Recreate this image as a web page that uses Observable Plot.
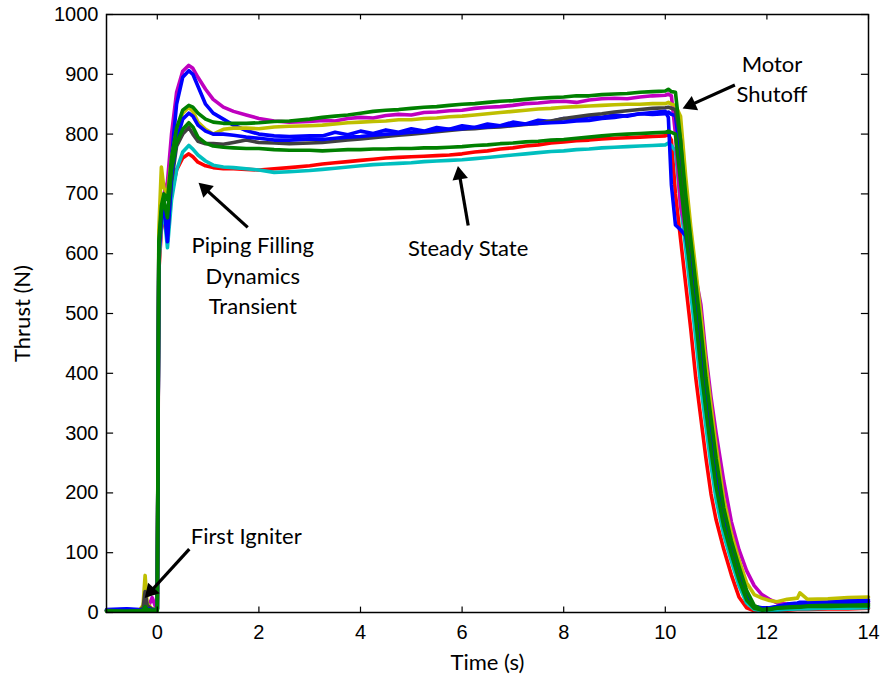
<!DOCTYPE html>
<html><head><meta charset="utf-8">
<script src="https://cdn.jsdelivr.net/npm/d3@7"></script>
<script src="https://cdn.jsdelivr.net/npm/@observablehq/plot@0.6"></script>
<style>body{margin:0;background:#fff}</style>
</head><body><div id="chart"></div>
<script>
// time axis (s)
const time = [
  -1, -0.6, -0.35, -0.28, -0.24, -0.2, -0.1, -0.02, 0.0,
  0.03, 0.08, 0.13, 0.2, 0.28, 0.38, 0.5, 0.62, 0.7, 0.8, 0.95, 1.1, 1.3, 1.5, 1.75, 2.0, 2.3, 2.6, 3.0,
  3.25, 3.5, 3.75, 4, 4.25, 4.5, 4.75, 5, 5.25, 5.5, 5.75, 6, 6.25, 6.5, 6.75, 7, 7.25, 7.5, 7.75, 8, 8.25, 8.5, 8.75, 9, 9.25, 9.5, 9.75,
  10.0, 10.06, 10.12, 10.2, 10.3, 10.4, 10.5, 10.6, 10.7, 10.8, 10.9, 11.0, 11.15, 11.3, 11.45, 11.6, 11.75, 11.9, 12.05, 12.2,
  12.4, 12.6, 12.65, 12.8, 13.2, 13.6, 14.0
];
// thrust (N) per test
const red = [
  3, 2, 3, 4, 8, 5, 4, 5, 5,
  570, 640, 660, 650, 700, 740, 760, 767, 762, 753, 747, 744, 742, 742, 741, 740, 742, 744, 747,
  750, 752, 754, 756, 758, 760, 761, 762, 763, 764, 765, 767, 770, 772, 775, 777, 780, 782, 785, 787, 789, 790, 792, 793, 794, 795, 796,
  797, 799, 790, 700, 625, 550, 475, 392, 325, 258, 198, 155, 106, 63, 26, 8, 3, 2, 2, 3,
  4, 5, 5, 5, 6, 6, 7
];
const cyan = [
  3, 3, 4, 6, 20, 10, 5, 6, 6,
  580, 650, 670, 610, 690, 740, 770, 781, 775, 765, 755, 748, 745, 744, 742, 740, 736, 737, 739,
  741, 743, 745, 747, 749, 750, 751, 752, 754, 755, 756, 757, 759, 761, 763, 765, 767, 769, 771, 772, 774, 775, 777, 778, 779, 780, 781,
  782, 785, 781, 772, 684, 610, 535, 458, 378, 311, 246, 189, 130, 86, 45, 16, 5, 3, 3, 4,
  5, 6, 6, 6, 7, 7, 8
];
const magenta = [
  3, 3, 3, 5, 15, 5, 25, 6, 6,
  600, 670, 700, 720, 800, 870, 905, 915, 910, 895, 875, 858, 845, 838, 832, 826, 822, 820, 821,
  823, 822, 826, 828, 827, 831, 833, 832, 836, 837, 839, 840, 843, 845, 846, 848, 851, 852, 854, 855, 853, 857, 859, 860, 859, 862, 864,
  865, 867, 864, 800, 680, 640, 600, 560, 515, 430, 360, 300, 220, 152, 105, 70, 45, 30, 22, 16,
  14, 14, 14, 15, 16, 17, 18
];
const blue1 = [
  5, 6, 5, 6, 10, 7, 6, 6, 6,
  610, 665, 690, 640, 760, 850, 895, 906, 900, 880, 850, 835, 825, 815, 806, 800, 797, 796, 797,
  797, 803, 799, 805, 801, 807, 803, 809, 805, 811, 808, 814, 811, 817, 814, 820, 817, 823, 821, 826, 824, 829, 828, 832, 830, 834, 833,
  834, 837, 833, 831, 760, 660, 588, 512, 433, 358, 290, 229, 155, 106, 63, 26, 10, 8, 8, 10,
  14, 16, 17, 17, 18, 20, 21
];
const yellow = [
  4, 3, 4, 12, 62, 15, 6, 6, 6,
  640, 745, 710, 700, 760, 805, 835, 845, 838, 820, 808, 800, 808, 810, 810, 809, 812, 813, 814,
  815, 817, 819, 820, 821, 822, 824, 824, 826, 827, 829, 830, 832, 834, 836, 838, 840, 842, 843, 845, 846, 847, 848, 849, 850, 850, 851,
  851, 853, 850, 848, 830, 730, 646, 573, 497, 416, 345, 278, 190, 132, 88, 50, 30, 24, 20, 18,
  22, 24, 33, 22, 23, 25, 26
];
const darkgray = [
  3, 3, 4, 8, 35, 12, 5, 5, 5,
  600, 660, 680, 630, 720, 780, 800, 811, 800, 788, 784, 784, 783, 786, 790, 786, 785, 784, 785,
  786, 788, 790, 792, 794, 796, 798, 800, 802, 804, 806, 808, 809, 811, 812, 814, 816, 818, 822, 826, 829, 832, 834, 837, 839, 841, 843,
  844, 845, 843, 841, 790, 674, 603, 527, 450, 372, 304, 240, 162, 112, 68, 30, 10, 5, 6, 8,
  10, 12, 12, 13, 14, 15, 15
];
const blue2 = [
  4, 5, 4, 5, 8, 6, 5, 5, 5,
  600, 660, 680, 620, 730, 790, 825, 835, 830, 815, 805, 800, 800, 798, 795, 793, 790, 790, 792,
  791, 793, 795, 796, 798, 800, 801, 803, 804, 806, 808, 809, 811, 812, 814, 815, 817, 818, 819, 820, 822, 823, 826, 828, 831, 834, 836,
  838, 828, 715, 648, 640, 630, 578, 500, 425, 360, 292, 231, 157, 107, 64, 27, 10, 7, 7, 10,
  12, 14, 14, 15, 16, 17, 18
];
const greenLow = [
  3, 2, 3, 4, 10, 5, 4, 4, 4,
  610, 670, 690, 660, 740, 785, 808, 819, 812, 795, 785, 780, 778, 777, 776, 776, 774, 773, 773,
  772, 773, 774, 774, 775, 775, 776, 776, 777, 777, 778, 779, 781, 782, 784, 785, 787, 788, 790, 791, 793, 795, 797, 799, 800, 801, 802,
  803, 805, 803, 800, 720, 639, 565, 490, 408, 338, 271, 210, 144, 98, 55, 21, 7, 4, 5, 7,
  8, 9, 9, 10, 10, 11, 11
];
const greenHigh = [
  2, 2, 3, 3, 5, 3, 3, 3, 3,
  620, 680, 700, 690, 760, 810, 840, 848, 845, 835, 825, 820, 818, 818, 818, 819, 821, 822, 825,
  828, 830, 832, 835, 838, 840, 841, 843, 845, 846, 848, 850, 851, 853, 855, 856, 858, 860, 861, 862, 864, 864, 866, 867, 868, 870, 871,
  872, 875, 871, 870, 790, 700, 625, 550, 475, 392, 325, 258, 175, 120, 77, 37, 12, 5, 6, 8,
  9, 10, 10, 11, 12, 12, 13
];

const seriesNames = ["red", "cyan", "magenta", "blue1", "yellow", "darkgray", "blue2", "greenLow", "greenHigh"];
const seriesValues = [red, cyan, magenta, blue1, yellow, darkgray, blue2, greenLow, greenHigh];
const seriesColors = ["#ff0000", "#00bfbf", "#bf00bf", "#0000ff", "#bfbf00", "#404040", "#0000ff", "#008000", "#008000"];

const xTicks = [0, 2, 4, 6, 8, 10, 12, 14];
const yTicks = [0, 100, 200, 300, 400, 500, 600, 700, 800, 900, 1000];

// annotations (data units)
const labels = [
  {t: 1.88, v: 566, text: "Piping Filling\nDynamics\nTransient"},
  {t: 6.12, v: 612, text: "Steady State"},
  {t: 12.1, v: 895, text: "Motor\nShutoff"},
  {t: 1.75, v: 130, text: "First Igniter"}
];
const arrows = [
  {t1: 1.78, v1: 644, t2: 0.82, v2: 718},
  {t1: 6.12, v1: 647, t2: 5.92, v2: 746},
  {t1: 11.37, v1: 882, t2: 10.35, v2: 843},
  {t1: 0.63, v1: 106, t2: -0.24, v2: 25}
];

const dims = {width: 880, height: 677, marginLeft: 106, marginRight: 12, marginTop: 14, marginBottom: 65,
  x: {domain: [-1, 14]}, y: {domain: [0, 1000]}};

// scales, to orient the filled arrowheads in screen space
const probe = Plot.plot({...dims, marks: []});
const sx = probe.scale("x"), sy = probe.scale("y");
const tipBack = 8.5;
const heads = arrows.map(a => {
  const x1 = sx.apply(a.t1), y1 = sy.apply(a.v1), x2 = sx.apply(a.t2), y2 = sy.apply(a.v2);
  const len = Math.hypot(x2 - x1, y2 - y1);
  const ux = (x2 - x1) / len, uy = (y2 - y1) / len;
  const cx = x2 - ux * tipBack, cy = y2 - uy * tipBack;
  return {t1: a.t1, v1: a.v1, t: sx.invert(cx), v: sy.invert(cy), angle: Math.atan2(ux, -uy) * 180 / Math.PI};
});

const rows = [];
seriesNames.forEach((name, k) => {
  seriesValues[k].forEach((v, i) => rows.push({t: time[i], v, name}));
});

const tickFont = "Liberation Sans, Arial, sans-serif";
const textFont = "Lato, sans-serif";

const chart = Plot.plot({
  ...dims,
  style: {background: "#fff"},
  x: {domain: [-1, 14], axis: null},
  y: {domain: [0, 1000], axis: null},
  color: {domain: seriesNames, range: seriesColors},
  marks: [
    Plot.line(rows, {x: "t", y: "v", z: "name", stroke: "name", strokeWidth: 3.6, strokeLinejoin: "round", strokeLinecap: "round"}),
    Plot.frame({stroke: "#000", strokeWidth: 1.5}),
    Plot.ruleX(xTicks, {x: d => d, y1: 0, y2: 9, stroke: "#000", strokeWidth: 1.2}),
    Plot.ruleX(xTicks, {x: d => d, y1: 991, y2: 1000, stroke: "#000", strokeWidth: 1.2}),
    Plot.ruleY(yTicks, {y: d => d, x1: -1, x2: -0.86, stroke: "#000", strokeWidth: 1.2}),
    Plot.ruleY(yTicks, {y: d => d, x1: 13.86, x2: 14, stroke: "#000", strokeWidth: 1.2}),
    Plot.axisX(xTicks, {tickSize: 0, tickPadding: 12, fontSize: 20, fontFamily: tickFont, tickFormat: d => String(d), label: null}),
    Plot.axisY(yTicks, {tickSize: 0, tickPadding: 8, fontSize: 20, fontFamily: tickFont, tickFormat: d => String(d), label: null}),
    Plot.text(["Time (s)"], {frameAnchor: "bottom", lineAnchor: "middle", dy: 50, text: d => d, fontSize: 22, fontFamily: textFont, fill: "#000"}),
    Plot.text(["Thrust (N)"], {frameAnchor: "left", textAnchor: "middle", dx: -84, rotate: -90, text: d => d, fontSize: 22, fontFamily: textFont, fill: "#000"}),
    Plot.link(heads, {x1: "t1", y1: "v1", x2: "t", y2: "v", stroke: "#000", strokeWidth: 3.2}),
    Plot.dot(heads, {x: "t", y: "v", symbol: "triangle", r: 5.8, rotate: "angle", fill: "#000", stroke: "none"}),
    Plot.text(labels, {x: "t", y: "v", text: "text", fontSize: 22, fontFamily: textFont, fill: "#000", lineHeight: 1.38})
  ]
});
document.getElementById("chart").appendChild(chart);
</script>
</body></html>
